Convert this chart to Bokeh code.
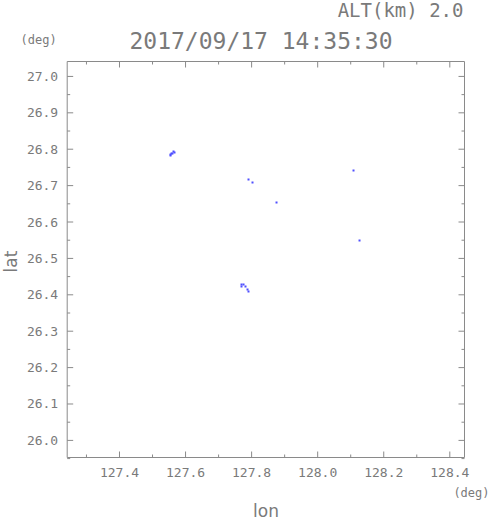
import math
from bokeh.plotting import figure
from bokeh.models import Range1d, Label
from bokeh.core.properties import value
from bokeh.embed import file_html
from bokeh.resources import INLINE

# ---- data ----
lon_vals = [127.5635, 127.5666, 127.5575, 127.5605, 127.5545, 127.5545,
            127.7906, 127.8027, 127.8754, 128.1085, 128.1267,
            127.7694, 127.7755, 127.7694, 127.7815, 127.7876, 127.7906]
lat_vals = [26.7937, 26.7910, 26.7880, 26.7880, 26.7828, 26.7855,
            26.7168, 26.7086, 26.6536, 26.7416, 26.5492,
            26.4284, 26.4284, 26.4229, 26.4229, 26.4147, 26.4091]
x_ticks = [127.4, 127.6, 127.8, 128.0, 128.2, 128.4]
x_minor = [127.3, 127.5, 127.7, 127.9, 128.1, 128.3]
y_ticks = [26.0, 26.1, 26.2, 26.3, 26.4, 26.5, 26.6, 26.7, 26.8, 26.9, 27.0]
y_minor = [25.95, 26.05, 26.15, 26.25, 26.35, 26.45, 26.55, 26.65, 26.75, 26.85, 26.95]
x_tick_labels = ["127.4", "127.6", "127.8", "128.0", "128.2", "128.4"]
y_tick_labels = ["26.0", "26.1", "26.2", "26.3", "26.4", "26.5", "26.6", "26.7", "26.8", "26.9", "27.0"]
title_text = "2017/09/17 14:35:30"
alt_text = "ALT(km) 2.0"
unit_text = "(deg)"
x_label = "lon"
y_label = "lat"

# plot-box extent in data units
X0, X1 = 127.2417, 128.4445
Y0, Y1 = 25.953, 27.041

# ---- layout (pixels) ----
W, H = 491, 521
FL, FR, FT, FB = 66.7, 464.0, 61.0, 457.0
kx = (FR - FL) / (X1 - X0)
ky = (FB - FT) / (Y1 - Y0)


def X(px):
    return X0 + (px - FL) / kx


def Y(py):
    return Y1 - (py - FT) / ky


GRAY = "#8a8a8a"
TXT = "#7a7a7a"
MONO = "DejaVu Sans Mono"
SANS = "DejaVu Sans"

p = figure(width=W, height=H, output_backend="svg", toolbar_location=None,
           x_range=Range1d(X(0), X(W)), y_range=Range1d(Y(H), Y(0)),
           x_axis_location=None, y_axis_location=None, min_border=0)
p.grid.visible = False
p.outline_line_color = None
p.background_fill_color = "white"
p.border_fill_color = "white"

# plot box
p.quad(left=[X0], right=[X1], bottom=[Y0], top=[Y1], fill_color=None,
       line_color=GRAY, line_width=1)

# inward ticks on all four sides
nx, nxm, ny, nym = len(x_ticks), len(x_minor), len(y_ticks), len(y_minor)
p.ray(x=x_ticks, y=[Y0] * nx, length=6, length_units="screen", angle=math.pi / 2, line_color=GRAY)
p.ray(x=x_minor, y=[Y0] * nxm, length=3, length_units="screen", angle=math.pi / 2, line_color=GRAY)
p.ray(x=x_ticks, y=[Y1] * nx, length=6, length_units="screen", angle=-math.pi / 2, line_color=GRAY)
p.ray(x=x_minor, y=[Y1] * nxm, length=3, length_units="screen", angle=-math.pi / 2, line_color=GRAY)
p.ray(x=[X0] * ny, y=y_ticks, length=6, length_units="screen", angle=0, line_color=GRAY)
p.ray(x=[X0] * nym, y=y_minor, length=3, length_units="screen", angle=0, line_color=GRAY)
p.ray(x=[X1] * ny, y=y_ticks, length=6, length_units="screen", angle=math.pi, line_color=GRAY)
p.ray(x=[X1] * nym, y=y_minor, length=3, length_units="screen", angle=math.pi, line_color=GRAY)

# tick labels
p.text(x=x_ticks, y=[Y0] * nx, text=x_tick_labels, y_offset=10, text_align="center",
       text_baseline="top", text_font=value(MONO), text_font_size=value("13px"), text_color=TXT)
p.text(x=[X0] * ny, y=y_ticks, text=y_tick_labels, x_offset=-9, text_align="right",
       text_baseline="middle", text_font=value(MONO), text_font_size=value("13px"), text_color=TXT)

# data
p.rect(x=lon_vals, y=lat_vals, width=2, height=2, width_units="screen",
       height_units="screen", fill_color="#4f4fff", line_color=None)

# texts
texts = [
    (alt_text, 463, 9, "right", "middle", MONO, "19px", 0),
    (title_text, 260.5, 40, "center", "middle", MONO, "23px", 0),
    (unit_text, 20, 39, "left", "middle", MONO, "12px", 0),
    (unit_text, 489, 492, "right", "middle", MONO, "12px", 0),
    (x_label, 265.5, 510, "center", "middle", SANS, "17px", 0),
    (y_label, 10.5, 261, "center", "middle", SANS, "17px", math.pi / 2),
]
for t, px, py, al, bl, f, s, ang in texts:
    p.add_layout(Label(x=X(px), y=Y(py), text=t, text_align=al, text_baseline=bl,
                       text_font=f, text_font_size=s, text_color=TXT, angle=ang))

open("out.html", "w").write(file_html(p, INLINE))
